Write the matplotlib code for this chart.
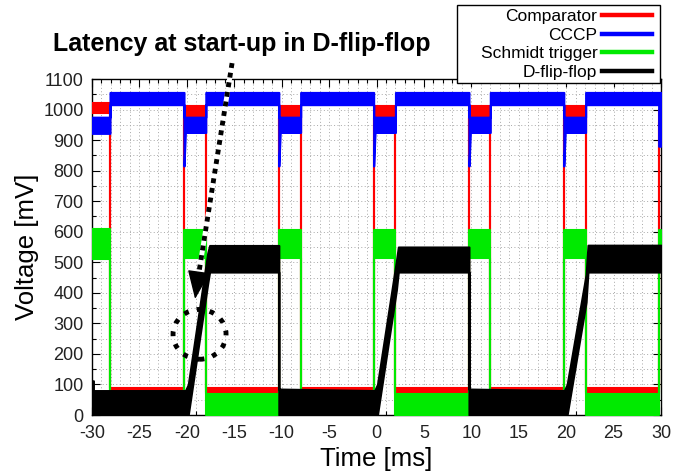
import matplotlib
matplotlib.use('Agg')
import matplotlib.pyplot as plt
from matplotlib.lines import Line2D
from matplotlib.patches import Ellipse, Rectangle
from matplotlib.ticker import MultipleLocator

plt.rcParams['font.family'] = ['Liberation Sans', 'DejaVu Sans']
plt.rcParams['axes.unicode_minus'] = False

# band envelope of each scope trace: time [ms], bottom / top of the noisy band [mV]
comp_t = [-30, -28.1, -28.1, -20.3, -20.3, -18.0, -18.0, -10.3, -10.3, -8.0, -8.0, -0.3, -0.3,
          2.0, 2.0, 9.75, 9.75, 12.0, 12.0, 19.75, 19.75, 22.05, 22.05, 29.75, 29.75, 30]
comp_lo = [988, 988, 74, 74, 972, 972, 74, 74, 972, 972, 74, 74, 972,
           972, 74, 74, 972, 972, 74, 74, 972, 972, 74, 74, 960, 960]
comp_hi = [1022, 1022, 90, 90, 1010, 1010, 90, 90, 1010, 1010, 90, 90, 1010,
           1010, 90, 90, 1010, 1010, 90, 90, 1010, 1010, 90, 90, 1000, 1000]

cccp_t = [-30, -28.1, -28.1, -20.3, -20.3, -20.15, -18.0, -18.0, -10.3, -10.3, -10.15, -8.0, -8.0,
          -0.3, -0.3, -0.15, 2.0, 2.0, 9.75, 9.75, 9.9, 12.0, 12.0, 19.75, 19.75, 19.9,
          22.05, 22.05, 29.75, 29.75, 30]
cccp_lo = [922, 922, 1016, 1016, 815, 925, 925, 1016, 1016, 815, 925, 925, 1016,
           1016, 815, 925, 925, 1016, 1016, 815, 925, 925, 1016, 1016, 815, 925,
           925, 1016, 1016, 880, 880]
cccp_hi = [975, 975, 1056, 1056, 975, 975, 975, 1056, 1056, 975, 975, 975, 1056,
           1056, 975, 975, 975, 1056, 1056, 975, 975, 975, 1056, 1056, 975, 975,
           975, 1056, 1056, 1056, 1056]

st_t = comp_t
st_lo = [512, 512, 0, 0, 515, 515, 0, 0, 515, 515, 0, 0, 515,
         515, 0, 0, 515, 515, 0, 0, 515, 515, 0, 0, 515, 515]
st_hi = [608, 608, 68, 68, 605, 605, 68, 68, 605, 605, 68, 68, 605,
         605, 68, 68, 605, 605, 68, 68, 605, 605, 68, 68, 605, 605]

dff_t = [-30, -29.85, -29.85, -20.15, -19.85, -17.8, -17.6, -10.3, -10.3, -0.2,
         0.1, 2.1, 2.3, 9.75, 9.75, 19.8, 20.1, 22.1, 22.3, 30]
dff_lo = [0, 0, 0, 0, 0, 430, 468, 468, 0, 0, 0, 410, 468, 468, 0, 0, 0, 370, 468, 468]
dff_hi = [112, 112, 80, 80, 100, 530, 555, 555, 85, 80, 100, 505, 550, 550, 85, 80, 100, 460, 556, 556]

names = ['Comparator', 'CCCP', 'Schmidt trigger', 'D-flip-flop']
colors = ['#ff0000', '#0000ff', '#00ea00', '#000000']
traces = [(comp_t, comp_lo, comp_hi), (cccp_t, cccp_lo, cccp_hi),
          (st_t, st_lo, st_hi), (dff_t, dff_lo, dff_hi)]

fig = plt.figure(figsize=(6.86, 4.76), dpi=100)
ax = fig.add_axes([92 / 686, 1 - 415 / 476, 569 / 686, 336 / 476])

for i, (t, lo, hi) in enumerate(traces):
    ax.fill_between(t, lo, hi, color=colors[i], lw=1.5, zorder=3 + i)

ax.set_xlim(-30, 30)
ax.set_ylim(0, 1100)
ax.xaxis.set_major_locator(MultipleLocator(5))
ax.xaxis.set_minor_locator(MultipleLocator(1))
ax.yaxis.set_major_locator(MultipleLocator(100))
ax.yaxis.set_minor_locator(MultipleLocator(50))
ax.grid(which='both', color='#a8a8a8', lw=0.7, ls=(0, (1, 2.5)), zorder=1)
ax.tick_params(which='both', direction='in', top=True, right=True,
               labelsize=13, labelcolor='#222222', width=0.8)
ax.tick_params(which='major', length=6)
ax.tick_params(axis='x', which='major', pad=7)
ax.tick_params(axis='y', which='major', pad=6)
ax.tick_params(which='minor', length=3)
for s in ax.spines.values():
    s.set_linewidth(1.0)
ax.set_xlabel('Time [ms]', fontsize=18.5, labelpad=4)
ax.set_ylabel('Voltage [mV]', fontsize=18.5, labelpad=3)

fig.text(242 / 686, 1 - 44 / 476, 'Latency at start-up in D-flip-flop',
         fontsize=18, fontweight='bold', ha='center', va='center')

# dotted arrow pointing at the ramp, and the dotted circle round it
ax.plot([-15.23, -18.86], [1152, 440], color='white', lw=3.5, clip_on=False, zorder=9)
ax.plot([-15.23, -18.86], [1152, 440], color='black', lw=3.5, ls=(0, (1, 1)),
        dash_capstyle='butt', clip_on=False, zorder=10)
ax.annotate('', xy=(-19.13, 380), xytext=(-18.86, 440),
            arrowprops=dict(arrowstyle='-|>,head_length=1.0,head_width=0.4',
                            color='black', lw=1, shrinkA=0, shrinkB=0,
                            mutation_scale=18), zorder=10)
ax.add_patch(Ellipse((-18.66, 264), 5.59, 163, fill=False, ec='black', lw=3.5,
                     ls=(0, (1, 1.7)), zorder=10))

# legend box drawn as in gnuplot: fixed frame, keys on the right
fig.patches.append(Rectangle((457 / 686, 1 - 83 / 476), 203 / 686, 78 / 476,
                             transform=fig.transFigure, facecolor='white',
                             edgecolor='black', lw=1.0, zorder=20))
handles = [Line2D([], [], color=c, lw=3.2) for c in colors]
leg = fig.legend(handles, names, loc='upper right', bbox_to_anchor=(652 / 686, 1 - 9 / 476),
                 borderaxespad=0, borderpad=0, markerfirst=False, fontsize=12.5,
                 handlelength=2.9, labelspacing=0.2, handletextpad=0.25, frameon=False)
leg.set_zorder(21)

fig.savefig('out.png', dpi=100)
